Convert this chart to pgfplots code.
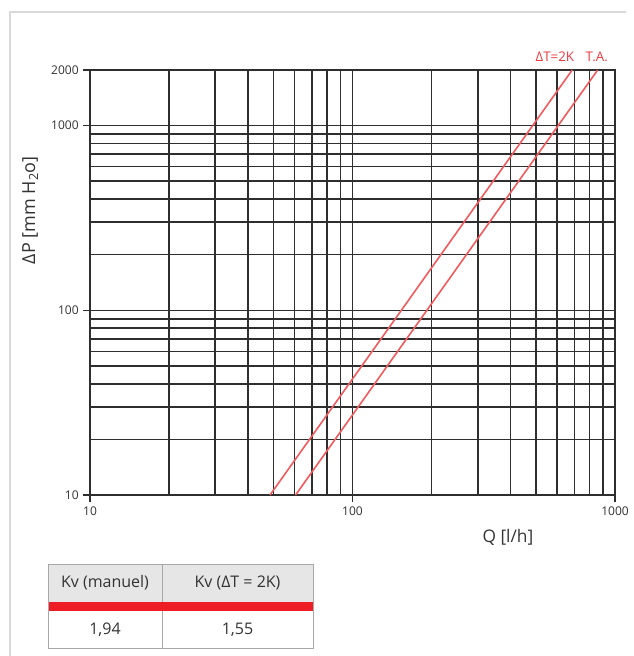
\documentclass[border=0pt]{standalone}
\usepackage{pgfplots}
\pgfplotsset{compat=1.18}
\usepackage{fontspec}
\setmainfont{Open Sans}
\definecolor{curve}{HTML}{F25A5E}
\definecolor{lbl}{HTML}{EE3A43}
\definecolor{tabred}{HTML}{EE1C25}
\definecolor{txt}{HTML}{333333}
\definecolor{gridc}{HTML}{2E2E2E}
\definecolor{frame}{HTML}{D9D9D9}
\definecolor{tabline}{HTML}{A8A8A8}
\definecolor{tabhead}{HTML}{E6E6E6}
\begin{document}
\begin{tikzpicture}
\begin{scope}[x=0.75pt,y=-0.75pt]
  \useasboundingbox (0,0) rectangle (626,656);
  \draw[frame, line width=1pt] (10,656) -- (10,12) -- (626,12);
\end{scope}
\begin{axis}[
  at={(67.5pt,-371.25pt)}, anchor=south west,
  scale only axis, width=393.75pt, height=318.75pt,
  xmode=log, ymode=log,
  xmin=10, xmax=1000, ymin=10, ymax=2000,
  xtick={10,100,1000}, ytick={10,100,1000,2000},
  minor xtick={20,30,40,50,60,70,80,90,200,300,400,500,600,700,800,900},
  minor ytick={20,30,40,50,60,70,80,90,200,300,400,500,600,700,800,900},
  log ticks with fixed point,
  /pgf/number format/1000 sep={},
  /pgf/number format/assume math mode=true,
  ticklabel style={font=\fontsize{9}{10}\selectfont, text=txt},
  tick pos=left, tick align=outside,
  major tick length=5pt, minor tick length=0pt,
  grid=both,
  major grid style={gridc, line width=1.15pt},
  minor grid style={gridc, line width=1.15pt},
  axis line style={gridc, line width=1.15pt},
  tick style={gridc, line width=1.15pt},
  xlabel={Q [l/h]},
  xlabel style={at={(axis description cs:0.796,-0.099)}, anchor=center,
    font=\fontsize{13}{15}\selectfont, text=txt},
  ylabel={ΔP [mm H\textsubscript{2}o]},
  ylabel style={at={(axis description cs:-0.114,0.67)}, anchor=center,
    font=\fontsize{13.5}{15}\selectfont, text=txt},
  clip=false,
]
\addplot[curve, line width=1.2pt] coordinates {(48.5,10) (687,2000)};
\addplot[curve, line width=1.2pt] coordinates {(60.7,10) (859,2000)};
\node[text=lbl, font=\fontsize{10}{11}\selectfont] at (axis cs:590,2351) {ΔT=2K};
\node[text=lbl, font=\fontsize{10}{11}\selectfont] at (axis cs:852,2351) {T.A.};
\end{axis}
\begin{scope}[x=0.75pt,y=-0.75pt]
  \fill[tabhead] (48,564) rectangle (313,602);
  \fill[tabred] (48,602) rectangle (313,611);
  \draw[tabline, line width=0.75pt] (48,564) rectangle (313,648);
  \draw[tabline, line width=0.75pt] (162,564) -- (162,602);
  \draw[tabline, line width=0.75pt] (162,611) -- (162,648);
  \begin{scope}[every node/.style={font=\fontsize{12}{14}\selectfont, text=txt}]
    \node at (105,583) {Kv (manuel)};
    \node at (237.5,583) {Kv (ΔT = 2K)};
    \node at (105,630) {1,94};
    \node at (237.5,630) {1,55};
  \end{scope}
\end{scope}
\end{tikzpicture}
\end{document}
